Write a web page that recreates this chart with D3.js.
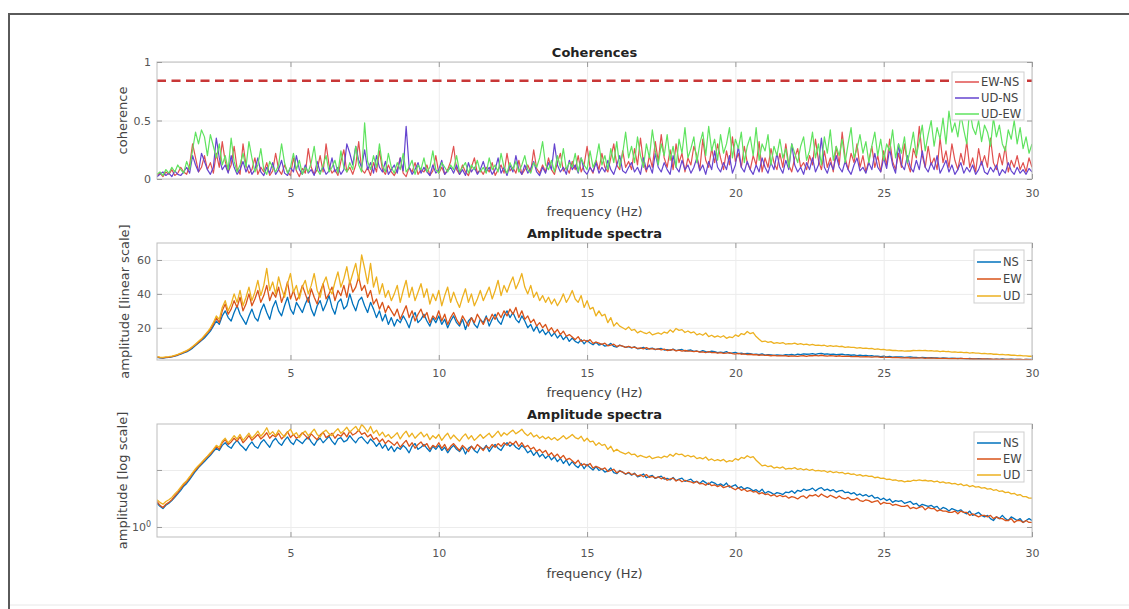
<!DOCTYPE html>
<html>
<head>
<meta charset="utf-8">
<title>Coherences and amplitude spectra</title>
<script src="https://cdnjs.cloudflare.com/ajax/libs/d3/7.8.5/d3.min.js"></script>
<style>
 body { margin: 0; background: #fff; }
 svg { font-family: "DejaVu Sans", sans-serif; }
</style>
</head>
<body>
<script>
// frequency axis of every series: 0.5 Hz to 30 Hz, 0.1 Hz step
const fStart = 0.5, fStep = 0.1;

// coherences, one row per Hz
const cohEWNS = [
 0.03,0.05,0.02,0.06,0.04,0.08,0.03,0.05,0.10,0.06,
 0.04,0.12,0.30,0.18,0.06,0.10,0.20,0.08,0.14,0.05,
 0.22,0.10,0.32,0.15,0.06,0.12,0.28,0.09,0.04,0.30,
 0.12,0.05,0.08,0.18,0.04,0.10,0.06,0.14,0.03,0.07,
 0.22,0.08,0.04,0.12,0.06,0.03,0.18,0.07,0.02,0.09,
 0.05,0.26,0.10,0.04,0.08,0.20,0.06,0.30,0.12,0.05,
 0.08,0.03,0.15,0.25,0.06,0.10,0.04,0.12,0.32,0.08,
 0.05,0.10,0.03,0.14,0.06,0.24,0.08,0.04,0.12,0.06,
 0.03,0.08,0.18,0.05,0.02,0.10,0.06,0.14,0.04,0.08,
 0.06,0.12,0.03,0.07,0.20,0.05,0.10,0.04,0.08,0.15,
 0.28,0.08,0.04,0.12,0.06,0.03,0.10,0.18,0.05,0.08,
 0.04,0.10,0.06,0.14,0.03,0.08,0.12,0.05,0.22,0.07,
 0.10,0.05,0.16,0.04,0.08,0.12,0.06,0.25,0.09,0.05,
 0.12,0.06,0.18,0.08,0.04,0.14,0.22,0.07,0.10,0.05,
 0.15,0.08,0.20,0.06,0.12,0.28,0.10,0.05,0.16,0.08,
 0.22,0.10,0.06,0.18,0.30,0.12,0.08,0.24,0.10,0.15,
 0.08,0.26,0.12,0.35,0.14,0.06,0.20,0.10,0.32,0.15,
 0.38,0.18,0.10,0.25,0.08,0.30,0.14,0.22,0.06,0.18,
 0.12,0.28,0.20,0.08,0.34,0.16,0.10,0.26,0.14,0.30,
 0.18,0.08,0.24,0.12,0.36,0.15,0.22,0.10,0.28,0.14,
 0.08,0.20,0.12,0.32,0.06,0.18,0.10,0.26,0.14,0.08,
 0.22,0.10,0.30,0.12,0.06,0.18,0.26,0.10,0.14,0.08,
 0.20,0.12,0.34,0.16,0.08,0.24,0.10,0.18,0.06,0.28,
 0.12,0.40,0.18,0.08,0.22,0.14,0.30,0.10,0.20,0.06,
 0.16,0.28,0.10,0.20,0.06,0.24,0.12,0.34,0.15,0.08,
 0.22,0.10,0.30,0.14,0.06,0.26,0.18,0.45,0.20,0.10,
 0.28,0.12,0.18,0.08,0.35,0.14,0.24,0.10,0.30,0.16,
 0.08,0.22,0.12,0.32,0.10,0.18,0.06,0.26,0.12,0.20,
 0.10,0.35,0.14,0.08,0.22,0.12,0.28,0.06,0.16,0.10,
 0.20,0.08,0.14,0.06,0.18,0.10
];
const cohUDNS = [
 0.02,0.04,0.06,0.03,0.05,0.02,0.07,0.04,0.03,0.06,
 0.10,0.05,0.20,0.12,0.06,0.22,0.15,0.08,0.04,0.10,
 0.35,0.18,0.08,0.12,0.05,0.20,0.10,0.04,0.08,0.15,
 0.06,0.12,0.04,0.08,0.18,0.06,0.03,0.10,0.05,0.14,
 0.04,0.08,0.16,0.05,0.03,0.10,0.06,0.20,0.08,0.04,
 0.12,0.05,0.08,0.03,0.15,0.06,0.10,0.04,0.07,0.18,
 0.06,0.10,0.04,0.08,0.30,0.22,0.12,0.28,0.16,0.10,
 0.25,0.08,0.14,0.05,0.20,0.10,0.06,0.15,0.04,0.08,
 0.12,0.05,0.18,0.07,0.45,0.10,0.04,0.08,0.14,0.05,
 0.10,0.06,0.03,0.12,0.05,0.08,0.16,0.04,0.07,0.10,
 0.05,0.12,0.04,0.08,0.03,0.14,0.06,0.10,0.04,0.08,
 0.15,0.06,0.10,0.04,0.08,0.18,0.05,0.10,0.03,0.12,
 0.06,0.20,0.08,0.04,0.12,0.05,0.09,0.15,0.06,0.03,
 0.10,0.05,0.14,0.08,0.30,0.12,0.06,0.10,0.04,0.16,
 0.08,0.12,0.05,0.18,0.07,0.04,0.10,0.06,0.14,0.05,
 0.10,0.06,0.16,0.08,0.04,0.12,0.20,0.07,0.05,0.10,
 0.14,0.06,0.10,0.04,0.18,0.08,0.12,0.05,0.22,0.10,
 0.06,0.14,0.08,0.04,0.20,0.10,0.06,0.16,0.08,0.12,
 0.05,0.10,0.18,0.07,0.12,0.04,0.15,0.08,0.24,0.10,
 0.06,0.14,0.08,0.20,0.05,0.12,0.28,0.10,0.06,0.15,
 0.08,0.04,0.12,0.06,0.18,0.10,0.05,0.14,0.08,0.22,
 0.10,0.05,0.16,0.08,0.30,0.12,0.06,0.10,0.04,0.14,
 0.08,0.18,0.06,0.12,0.35,0.10,0.05,0.14,0.08,0.20,
 0.10,0.06,0.15,0.08,0.04,0.12,0.18,0.07,0.10,0.05,
 0.14,0.08,0.22,0.10,0.06,0.18,0.09,0.26,0.12,0.05,
 0.30,0.12,0.08,0.20,0.10,0.06,0.16,0.08,0.24,0.10,
 0.06,0.14,0.08,0.20,0.05,0.10,0.16,0.06,0.12,0.04,
 0.08,0.14,0.05,0.10,0.06,0.12,0.04,0.08,0.15,0.06,
 0.04,0.10,0.06,0.12,0.03,0.08,0.05,0.14,0.07,0.04,
 0.10,0.05,0.08,0.04,0.09,0.06
];
const cohUDEW = [
 0.04,0.06,0.03,0.08,0.05,0.10,0.06,0.12,0.08,0.05,
 0.15,0.08,0.25,0.40,0.30,0.42,0.36,0.20,0.38,0.28,
 0.18,0.30,0.12,0.20,0.08,0.35,0.15,0.06,0.12,0.22,
 0.10,0.32,0.18,0.06,0.12,0.26,0.08,0.04,0.15,0.10,
 0.06,0.12,0.30,0.14,0.05,0.10,0.22,0.08,0.16,0.04,
 0.10,0.06,0.14,0.28,0.08,0.04,0.12,0.20,0.06,0.10,
 0.16,0.05,0.24,0.10,0.06,0.14,0.08,0.28,0.12,0.06,
 0.48,0.15,0.08,0.20,0.10,0.30,0.12,0.06,0.22,0.10,
 0.05,0.14,0.08,0.22,0.06,0.10,0.16,0.04,0.12,0.08,
 0.18,0.06,0.10,0.24,0.08,0.05,0.14,0.10,0.06,0.12,
 0.08,0.20,0.06,0.10,0.14,0.05,0.12,0.08,0.16,0.06,
 0.10,0.05,0.18,0.08,0.12,0.06,0.22,0.10,0.05,0.14,
 0.08,0.15,0.06,0.12,0.20,0.08,0.05,0.14,0.10,0.18,
 0.32,0.12,0.08,0.16,0.06,0.20,0.10,0.26,0.08,0.14,
 0.10,0.22,0.06,0.18,0.12,0.08,0.24,0.10,0.16,0.30,
 0.12,0.20,0.08,0.26,0.14,0.32,0.10,0.22,0.40,0.18,
 0.28,0.14,0.36,0.20,0.10,0.30,0.18,0.42,0.24,0.12,
 0.30,0.20,0.38,0.16,0.28,0.10,0.34,0.22,0.44,0.18,
 0.26,0.36,0.14,0.30,0.40,0.20,0.45,0.24,0.34,0.16,
 0.38,0.22,0.30,0.44,0.18,0.34,0.26,0.40,0.14,0.28,
 0.36,0.20,0.44,0.16,0.30,0.24,0.38,0.12,0.28,0.20,
 0.34,0.18,0.26,0.10,0.30,0.22,0.14,0.28,0.36,0.16,
 0.24,0.40,0.18,0.30,0.12,0.36,0.22,0.42,0.16,0.28,
 0.20,0.34,0.14,0.30,0.44,0.18,0.26,0.38,0.22,0.32,
 0.14,0.28,0.40,0.20,0.34,0.16,0.30,0.24,0.42,0.18,
 0.30,0.22,0.36,0.14,0.26,0.40,0.20,0.32,0.46,0.24,
 0.38,0.50,0.28,0.44,0.34,0.52,0.30,0.58,0.40,0.48,
 0.36,0.55,0.42,0.30,0.60,0.44,0.38,0.50,0.32,0.46,
 0.40,0.28,0.52,0.36,0.46,0.30,0.24,0.42,0.34,0.50,
 0.30,0.44,0.26,0.36,0.22,0.30
];
const confLevel = 0.84;

// amplitude spectra, one row per Hz
const ampNS = [
 2.6,2.3,2.1,2.4,2.6,2.9,3.3,3.8,4.4,5.2,
 5.8,6.8,8.0,9.5,11,12.5,14,16,18,21,
 24,22,27,30,26,24,29,33,28,25,
 22,27,31,26,24,30,34,29,25,32,
 36,30,27,33,38,31,28,35,32,29,
 34,38,31,27,33,36,30,34,39,32,
 28,35,37,31,33,40,34,30,36,38,
 33,29,35,31,26,30,24,28,22,26,
 21,25,23,27,24,20,26,29,23,25,
 28,24,21,26,23,27,22,25,20,24,
 27,23,21,25,19,24,26,22,20,25,
 23,27,21,25,28,24,22,27,30,26,
 29,25,23,27,24,20,22,18,21,17,
 19,16,18,15,17,14,16,13,15,12,
 14,12,11,13,10.5,12.5,11,10,11.5,9.8,
 10.4,9.2,9.6,10.8,9.0,8.6,9.8,9.1,8.4,8.9,
 8.1,8.8,7.6,7.9,8.5,7.3,7.7,8.0,7.1,7.5,
 7.8,6.9,7.1,6.7,7.4,6.5,6.9,7.2,6.3,6.6,
 6.9,6.1,6.3,5.8,6.5,6.0,5.6,6.2,5.9,5.4,
 5.7,5.3,5.9,5.0,5.2,5.5,4.8,5.1,4.6,4.9,
 4.7,4.3,4.5,4.1,4.6,3.9,4.2,4.0,3.7,4.0,
 3.9,3.7,4.1,4.0,4.3,3.9,4.4,4.2,4.6,4.4,
 4.5,4.8,4.3,4.7,4.9,4.4,4.6,4.3,4.5,4.1,
 4.3,4.4,4.0,4.1,3.8,4.0,3.6,3.8,3.5,3.7,
 3.4,3.6,3.2,3.3,3.0,3.2,2.9,3.1,2.7,2.9,
 2.8,2.9,2.6,2.7,2.8,2.5,2.6,2.3,2.5,2.4,
 2.3,2.4,2.2,2.3,2.0,2.2,2.1,1.9,2.1,2.0,
 1.9,2.0,1.8,1.7,1.9,1.6,1.7,1.8,1.6,1.5,
 1.6,1.4,1.3,1.5,1.4,1.6,1.4,1.3,1.5,1.4,
 1.3,1.4,1.2,1.3,1.4,1.3
];
const ampEW = [
 2.8,2.4,2.2,2.5,2.7,3.0,3.5,4.0,4.7,5.5,
 6.2,7.2,8.6,10,11.5,13,15,17,19,22,
 26,23,30,34,28,31,36,32,38,30,
 34,40,33,37,42,35,39,45,36,41,
 38,44,35,40,47,37,42,36,39,45,
 40,35,43,38,34,41,46,37,40,44,
 36,42,39,45,38,48,41,44,50,42,
 45,38,42,34,37,31,35,29,33,30,
 27,31,25,29,33,26,30,24,28,31,
 26,29,23,27,25,30,24,28,22,26,
 29,25,22,27,24,21,26,23,28,25,
 22,26,24,28,25,29,26,30,27,31,
 28,32,26,30,25,27,23,25,21,23,
 20,22,18,20,17,19,16,18,15,16,
 14.5,13,14.8,12,12.8,11.8,13,10.8,11.6,11,
 10.2,10.9,9.4,9.8,10.3,8.9,9.6,9.2,8.5,9.1,
 8.3,8.6,7.8,8.2,7.6,8.3,7.4,7.7,7.2,7.6,
 7.0,7.4,6.6,6.9,7.2,6.4,6.8,6.2,6.6,6.3,
 6.2,5.9,6.3,5.7,5.8,5.4,5.9,5.3,5.5,5.1,
 5.4,4.9,5.1,5.3,4.8,4.5,4.9,4.4,4.6,4.2,
 4.4,4.1,4.2,3.8,4.0,3.7,3.8,3.5,3.7,3.4,
 3.6,3.4,3.5,3.2,3.4,3.3,3.1,3.4,3.5,3.2,
 3.6,3.5,3.7,3.4,3.8,3.5,3.3,3.6,3.4,3.2,
 3.5,3.2,3.1,3.3,3.0,3.0,3.2,2.9,2.8,3.0,
 2.9,2.7,2.8,2.9,2.5,2.7,2.6,2.6,2.4,2.5,
 2.4,2.3,2.3,2.4,2.1,2.2,2.1,2.2,2.3,2.0,
 2.2,2.1,2.1,1.9,2.0,1.9,1.9,1.8,1.8,1.9,
 1.7,1.9,1.8,1.8,1.6,1.7,1.6,1.5,1.6,1.6,
 1.5,1.6,1.4,1.5,1.4,1.4,1.3,1.3,1.4,1.2,
 1.3,1.3,1.2,1.3,1.2,1.2
];
const ampUD = [
 3.0,2.7,2.5,2.8,3.0,3.3,3.8,4.3,5.0,5.8,
 6.5,7.6,9.0,10.5,12,13.5,15.5,17.5,20,23,
 27,25,32,36,30,34,40,35,42,33,
 38,44,36,41,48,39,45,55,42,47,
 40,50,43,38,46,52,41,45,37,44,
 48,40,45,52,42,38,46,50,43,40,
 47,53,44,49,56,46,52,58,48,63,
 55,46,58,44,50,40,46,38,42,36,
 40,45,35,42,48,38,44,36,41,46,
 38,43,34,40,36,42,33,39,44,35,
 41,36,32,38,43,35,40,33,37,42,
 36,40,44,37,42,48,39,45,41,46,
 50,43,47,52,44,40,45,38,41,36,
 39,35,38,34,37,33,36,40,35,38,
 42,37,35,39,32,36,31,32,27,30,
 27,28,23,26,21,23,21,20,19,20.5,
 18.5,19,17,18,17.2,16.5,17.5,15.8,16.4,17,
 16.2,17.5,16.8,18.8,17.4,19.6,18.5,18.9,17.2,18.1,
 17,17.6,15.8,16.5,15.6,16.9,14.8,15.6,14.5,15.2,
 14.4,15.3,13.8,14.6,14.2,15.8,14.9,16.6,16,17.8,
 16.5,17.2,14.8,13.2,11.8,12.2,11.4,11.8,10.8,11.2,
 10.8,11.3,10.3,10.7,10.5,11.0,10.2,10.6,10.0,10.4,
 9.8,10.2,9.6,9.8,9.5,9.7,9.1,9.5,9.0,9.3,
 8.9,9.1,8.5,8.8,8.4,8.5,8.0,8.3,7.8,8.0,
 7.7,7.8,7.3,7.5,7.1,7.2,6.8,6.9,6.6,6.7,
 6.4,6.5,6.2,6.4,6.3,6.6,6.5,6.7,6.5,6.6,
 6.4,6.5,6.2,6.4,6.0,6.2,5.9,6.0,5.7,5.8,
 5.5,5.7,5.3,5.5,5.1,5.3,5.0,5.1,4.8,4.9,
 4.6,4.7,4.4,4.5,4.2,4.3,4.0,4.1,3.8,3.9,
 3.6,3.7,3.4,3.4,3.2,3.2
];

const freqTicks = [5, 10, 15, 20, 25, 30];
const cohTicks = [0, 0.5, 1];
const linTicks = [20, 40, 60];
const logTicks = [1, 10];

const cohNames = ["EW-NS", "UD-NS", "UD-EW"];
const cohColors = ["#e0504f", "#6544cf", "#5fe35f"];
const ampNames = ["NS", "EW", "UD"];
const ampColors = ["#0072bd", "#d95319", "#edb120"];

const w = 1129, h = 609;
const left = 157, right = 1032;

const svg = d3.select("body").append("svg")
  .attr("width", w)
  .attr("height", h);

// figure frame (left and top edges only)
svg.append("path")
  .attr("d", "M9,609V14H1129")
  .attr("fill", "none")
  .attr("stroke", "#5a5a5a")
  .attr("stroke-width", 2);
svg.append("line")
  .attr("x1", 10).attr("x2", w).attr("y1", 605).attr("y2", 605)
  .attr("stroke", "#e8e8e8");

const x = d3.scaleLinear().domain([0.5, 30]).range([left, right]);
const freq = cohEWNS.map((d, i) => fStart + i * fStep);

function panel(o) {
  const g = svg.append("g");
  const y = o.y;
  const top = o.top, bottom = o.bottom;

  // grid
  g.append("g")
    .attr("transform", "translate(0," + bottom + ")")
    .call(d3.axisBottom(x).tickValues(freqTicks).tickSize(-(bottom - top)).tickFormat(""))
    .call(a => a.select(".domain").remove())
    .call(a => a.selectAll("line").attr("stroke", "#ececec"));
  g.append("g")
    .attr("transform", "translate(" + left + ",0)")
    .call(d3.axisLeft(y).tickValues(o.yTicks).tickSize(-(right - left)).tickFormat(""))
    .call(a => a.select(".domain").remove())
    .call(a => a.selectAll("line").attr("stroke", "#ececec"));

  const clipId = "clip" + top;
  g.append("clipPath").attr("id", clipId)
    .append("rect")
    .attr("x", left).attr("y", top)
    .attr("width", right - left).attr("height", bottom - top);

  const plot = g.append("g").attr("clip-path", "url(#" + clipId + ")");
  if (o.extra) o.extra(plot, y);
  const line = d3.line().x((d, i) => x(freq[i])).y(d => y(d));
  o.series.forEach((s, k) => {
    plot.append("path")
      .attr("d", line(s))
      .attr("fill", "none")
      .attr("stroke", o.colors[k])
      .attr("stroke-width", o.lw)
      .attr("stroke-linejoin", "round");
  });

  // box
  g.append("rect")
    .attr("x", left).attr("y", top)
    .attr("width", right - left).attr("height", bottom - top)
    .attr("fill", "none")
    .attr("stroke", "#bdbdbd");

  // ticks pointing inwards on all sides
  g.append("g")
    .attr("transform", "translate(0," + bottom + ")")
    .call(d3.axisBottom(x).tickValues(freqTicks).tickSizeInner(-5).tickSizeOuter(0).tickPadding(o.xPad));
  g.append("g")
    .attr("transform", "translate(0," + top + ")")
    .call(d3.axisTop(x).tickValues(freqTicks).tickSizeInner(-5).tickSizeOuter(0).tickFormat(""));
  const ya = g.append("g")
    .attr("transform", "translate(" + left + ",0)")
    .call(d3.axisLeft(y).tickValues(o.yTicks).tickSizeInner(-5).tickSizeOuter(0).tickPadding(6).tickFormat(o.yFormat));
  g.append("g")
    .attr("transform", "translate(" + right + ",0)")
    .call(d3.axisRight(y).tickValues(o.yTicks).tickSizeInner(-5).tickSizeOuter(0).tickFormat(""));
  g.selectAll(".domain").remove();
  g.selectAll(".tick line").filter(function () { return this.getAttribute("stroke") === "currentColor"; })
    .attr("stroke", "#9a9a9a");
  g.selectAll(".tick text")
    .attr("font-family", "DejaVu Sans, sans-serif")
    .attr("font-size", 11)
    .attr("fill", "#555");
  if (o.logLabels) {
    ya.selectAll(".tick text").each(function (d) {
      const t = d3.select(this).text("");
      if (d !== 1) return;
      t.append("tspan").text("10");
      t.append("tspan").attr("dy", "-0.45em").attr("font-size", 8).text("0");
    });
  }

  // title and axis labels
  g.append("text")
    .attr("x", (left + right) / 2).attr("y", top - 5)
    .attr("text-anchor", "middle")
    .attr("font-size", 13).attr("font-weight", "bold").attr("fill", "#222")
    .text(o.title);
  g.append("text")
    .attr("x", (left + right) / 2).attr("y", o.xLabelY)
    .attr("text-anchor", "middle")
    .attr("font-size", 13).attr("fill", "#444")
    .text("frequency (Hz)");
  g.append("text")
    .attr("transform", "translate(" + o.yLabelX + "," + (top + bottom) / 2 + ") rotate(-90)")
    .attr("text-anchor", "middle")
    .attr("font-size", 13).attr("fill", "#444")
    .text(o.yLabel);

  // legend
  const L = o.legend;
  const lg = g.append("g");
  lg.append("rect")
    .attr("x", L.x).attr("y", L.y)
    .attr("width", L.w).attr("height", L.h)
    .attr("fill", "#fff").attr("stroke", "#cfcfcf");
  o.names.forEach((n, k) => {
    const yy = L.rows[k];
    lg.append("line")
      .attr("x1", L.x + 3).attr("x2", L.x + 27)
      .attr("y1", yy).attr("y2", yy)
      .attr("stroke", o.colors[k]).attr("stroke-width", 1.5);
    lg.append("text")
      .attr("x", L.x + 29).attr("y", yy + 4)
      .attr("font-size", 11.5).attr("fill", "#444")
      .text(n);
  });
}

panel({
  top: 62, bottom: 179,
  y: d3.scaleLinear().domain([0, 1]).range([179, 62]),
  yTicks: cohTicks, yFormat: d => d,
  series: [cohEWNS, cohUDNS, cohUDEW], colors: cohColors, names: cohNames, lw: 1.2,
  title: "Coherences", yLabel: "coherence", yLabelX: 127,
  xPad: 10, xLabelY: 216,
  legend: { x: 952, y: 72, w: 72, h: 48, rows: [82, 98, 114] },
  extra: (p, y) => p.append("line")
    .attr("x1", left).attr("x2", right)
    .attr("y1", y(confLevel)).attr("y2", y(confLevel))
    .attr("stroke", "#c83737").attr("stroke-width", 2.5)
    .attr("stroke-dasharray", "9,5.5")
});

panel({
  top: 243, bottom: 360,
  y: d3.scaleLinear().domain([1, 70]).range([360, 243]),
  yTicks: linTicks, yFormat: d => d,
  series: [ampNS, ampEW, ampUD], colors: ampColors, names: ampNames, lw: 1.3,
  title: "Amplitude spectra", yLabel: "amplitude [linear scale]", yLabelX: 129,
  xPad: 9, xLabelY: 397,
  legend: { x: 974, y: 250, w: 50, h: 53, rows: [262, 279, 296] }
});

panel({
  top: 424, bottom: 537,
  y: d3.scaleLog().domain([0.667, 64]).range([537, 424]),
  yTicks: logTicks, yFormat: d => d, logLabels: true,
  series: [ampNS, ampEW, ampUD], colors: ampColors, names: ampNames, lw: 1.3,
  title: "Amplitude spectra", yLabel: "amplitude [log scale]", yLabelX: 127,
  xPad: 12, xLabelY: 578,
  legend: { x: 974, y: 432, w: 50, h: 50, rows: [443, 459, 475] }
});
</script>
</body>
</html>
